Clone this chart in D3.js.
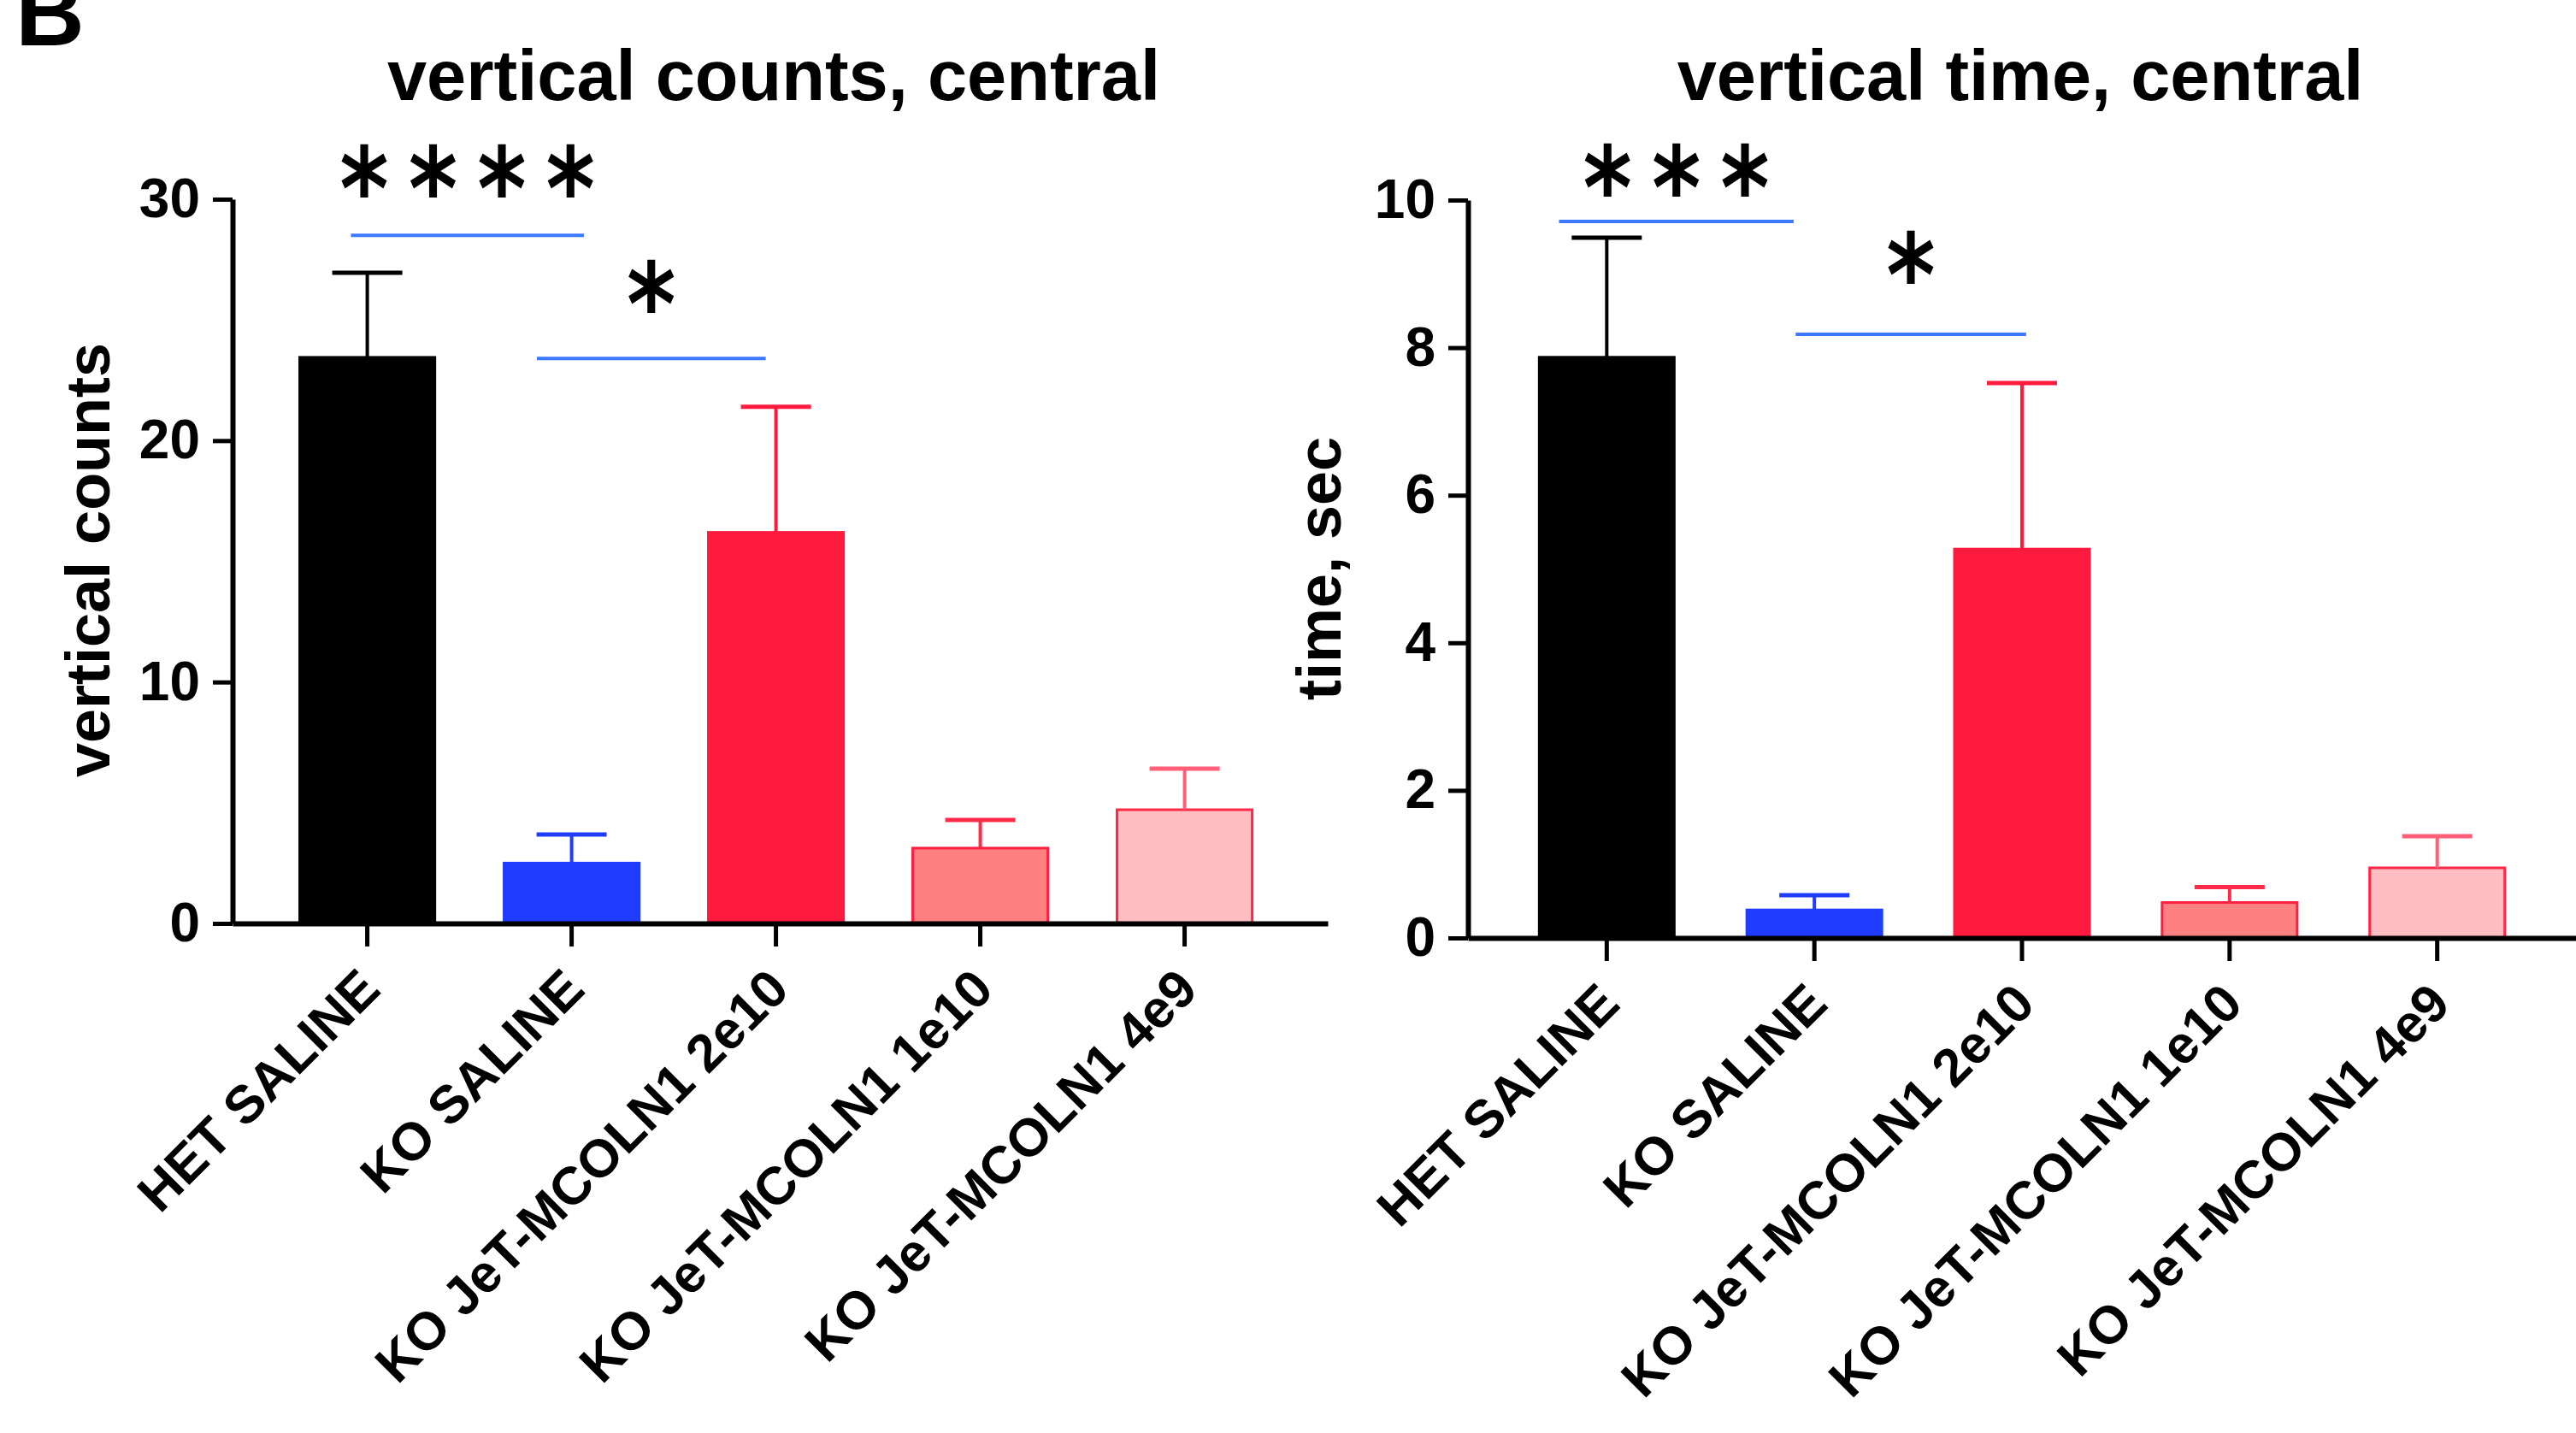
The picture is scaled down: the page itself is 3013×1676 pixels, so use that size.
<!DOCTYPE html>
<html>
<head>
<meta charset="utf-8">
<script src="https://cdn.jsdelivr.net/npm/d3@7"></script>
<style>
body { margin: 0; background: #fff; }
svg text { font-family: "Liberation Sans", Arial, sans-serif; font-weight: bold; fill: #000; }
svg text.star { font-family: "DejaVu Sans", sans-serif; }
</style>
</head>
<body>
<svg width="3013" height="1676"></svg>
<script>
var groups = ["HET SALINE", "KO SALINE", "KO JeT-MCOLN1 2e10", "KO JeT-MCOLN1 1e10", "KO JeT-MCOLN1 4e9"];

var countsMean = [23.45, 2.5, 16.2, 3.12, 4.71];
var countsErr = [3.5, 1.18, 5.2, 1.17, 1.7];
var countsTicks = [0, 10, 20, 30];

var timeMean = [7.87, 0.38, 5.27, 0.48, 0.95];
var timeErr = [1.62, 0.2, 2.25, 0.21, 0.43];
var timeTicks = [0, 2, 4, 6, 8, 10];

// significance bars: group index span, level of the bar, level of the stars
var countsSig = [
    { from: -0.08, to: 1.06, level: 28.5, textLevel: 31.1, label: "****" },
    { from: 0.83, to: 1.95, level: 23.4, textLevel: 26.3, label: "*" }
];
var timeSig = [
    { from: -0.23, to: 0.9, level: 9.71, textLevel: 10.38, label: "***" },
    { from: 0.91, to: 2.02, level: 8.18, textLevel: 9.2, label: "*" }
];

var barFill = ["#000000", "#1f3cff", "#ff1b3d", "#ff8080", "#ffbec2"];
var barStroke = ["#000000", "#1f3cff", "#ff1b3d", "#ff1f40", "#ff2846"];
var whiskerColor = ["#000000", "#1f3cff", "#ff1b3d", "#ff2b48", "#ff6078"];

var svg = d3.select("svg");

svg.append("text")
    .attr("x", 18)
    .attr("y", 53)
    .style("font-size", "112px")
    .text("B");

function drawPanel(opt) {
    let x = d3.scaleBand()
        .domain(groups)
        .range([opt.left, opt.right])
        .paddingInner(opt.padIn)
        .paddingOuter(opt.padOut)
        .align(opt.align);
    let y = d3.scaleLinear().domain(opt.domain).range([opt.bottom, opt.top]);
    let step = x.step();
    let cx = function(i) { return x(groups[0]) + x.bandwidth() / 2 + i * step; };

    let g = svg.append("g");

    // title
    g.append("text")
        .attr("x", opt.titleX)
        .attr("y", 117)
        .attr("text-anchor", "middle")
        .style("font-size", "83px")
        .text(opt.title);

    // y label
    g.append("text")
        .attr("transform", "translate(" + opt.labelX + "," + opt.labelY + ") rotate(-90)")
        .attr("text-anchor", "middle")
        .style("font-size", "72px")
        .text(opt.yLabel);

    // bars
    g.selectAll(".bar")
        .data(opt.means)
        .enter()
        .append("rect")
        .attr("x", function(d, i) { return x(groups[i]) + 1.5; })
        .attr("y", function(d) { return y(d); })
        .attr("width", x.bandwidth() - 3)
        .attr("height", function(d) { return opt.bottom - y(d); })
        .attr("fill", function(d, i) { return barFill[i]; })
        .attr("stroke", function(d, i) { return barStroke[i]; })
        .attr("stroke-width", 3);

    // error bars (upper only)
    let err = g.selectAll(".err")
        .data(opt.means)
        .enter()
        .append("g");
    err.append("line")
        .attr("x1", function(d, i) { return cx(i); })
        .attr("x2", function(d, i) { return cx(i); })
        .attr("y1", function(d) { return y(d); })
        .attr("y2", function(d, i) { return y(d + opt.errs[i]); })
        .attr("stroke", function(d, i) { return whiskerColor[i]; })
        .attr("stroke-width", 4);
    err.append("line")
        .attr("x1", function(d, i) { return cx(i) - 41; })
        .attr("x2", function(d, i) { return cx(i) + 41; })
        .attr("y1", function(d, i) { return y(d + opt.errs[i]); })
        .attr("y2", function(d, i) { return y(d + opt.errs[i]); })
        .attr("stroke", function(d, i) { return whiskerColor[i]; })
        .attr("stroke-width", 5);

    // axes
    let yAxis = g.append("g")
        .attr("transform", "translate(" + opt.left + ",0)")
        .call(d3.axisLeft(y).tickValues(opt.ticks).tickSize(23).tickSizeOuter(0).tickPadding(15));
    let xAxis = g.append("g")
        .attr("transform", "translate(0," + opt.bottom + ")")
        .call(d3.axisBottom(x).tickSize(27).tickSizeOuter(0));

    [yAxis, xAxis].forEach(function(a) {
        a.select(".domain").attr("stroke-width", 6).attr("stroke", "#000");
        a.selectAll(".tick line").attr("stroke-width", 5).attr("stroke", "#000");
    });
    yAxis.selectAll("text")
        .style("font-size", "64px")
        .attr("font-family", null)
        .attr("fill", "#000");
    xAxis.selectAll("text")
        .style("font-size", "62px")
        .attr("font-family", null)
        .attr("fill", "#000")
        .attr("text-anchor", "end")
        .attr("x", 0)
        .attr("y", 0)
        .attr("dy", 0)
        .attr("transform", "translate(18,80) rotate(-45)");
    g.selectAll(".domain").raise();

    // significance
    g.selectAll(".sig")
        .data(opt.sig)
        .enter()
        .append("line")
        .attr("x1", function(d) { return cx(d.from); })
        .attr("x2", function(d) { return cx(d.to); })
        .attr("y1", function(d) { return y(d.level); })
        .attr("y2", function(d) { return y(d.level); })
        .attr("stroke", "#3b78ff")
        .attr("stroke-width", 4);
    g.selectAll(".star")
        .data(opt.sig)
        .enter()
        .append("text")
        .attr("class", "star")
        .attr("transform", function(d) {
            return "translate(" + cx((d.from + d.to) / 2) + "," + (y(d.textLevel) + 66) + ") scale(0.82,1)";
        })
        .attr("x", 14)
        .attr("text-anchor", "middle")
        .style("font-size", "134px")
        .style("letter-spacing", "28px")
        .text(function(d) { return d.label; });
}

drawPanel({
    left: 272, right: 1553, top: 233, bottom: 1080,
    padIn: 0.326, padOut: 0.343, align: 0.47,
    domain: [0, 30], ticks: countsTicks,
    means: countsMean, errs: countsErr, sig: countsSig,
    title: "vertical counts, central", titleX: 905,
    yLabel: "vertical counts", labelX: 128, labelY: 655
});

drawPanel({
    left: 1717, right: 3013, top: 234, bottom: 1097,
    padIn: 0.337, padOut: 0.337, align: 0.5,
    domain: [0, 10], ticks: timeTicks,
    means: timeMean, errs: timeErr, sig: timeSig,
    title: "vertical time, central", titleX: 2363,
    yLabel: "time, sec", labelX: 1568, labelY: 665
});
</script>
</body>
</html>
